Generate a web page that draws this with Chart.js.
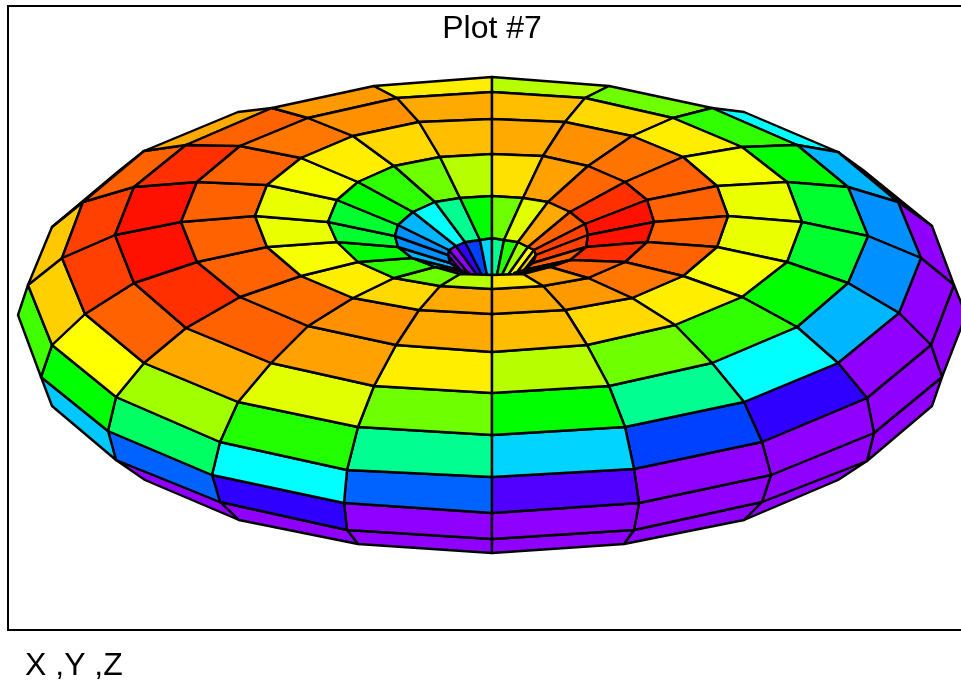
<!DOCTYPE html>
<html>
<head>
<meta charset="utf-8">
<title>Plot #7</title>
<script src="https://cdn.jsdelivr.net/npm/chart.js@4/dist/chart.umd.js"></script>
<style>
  html, body { margin: 0; padding: 0; background: #fff; overflow: hidden; }
  canvas { display: block; }
</style>
</head>
<body>
<canvas id="surface" width="961" height="681"></canvas>
<script>
// mesh: every ring has 20 vertices, front spoke first,
// round the left side to the back spoke, then back down the right side
const _ = null;

const throatX = [_, _, _, _, 458, 463, 470, 477, 482, 487, 492, 497, 502, 508, 515, 522, 526, _, _, _];
const throatY = [_, _, _, _, 271, 273, 275, 275, 275, 275, 275, 275, 275, 275, 275, 273, 271, _, _, _];
const lipX = [492, 481, 470, 460, 450, 448, 449, 456, 465, 480, 492, 504, 518, 528, 534, 536, 533, 524, 514, 503];
const lipY = [275, 274, 273, 270, 263, 255, 250, 246, 242, 240, 238, 240, 242, 247, 250, 255, 263, 270, 273, 274];
const ringBX = [492, 460, 435, 412, 398, 395, 398, 413, 435, 460, 492, 523, 548, 570, 585, 588, 586, 570, 550, 523];
const ringBY = [275, 274, 267, 258, 247, 236, 225, 212, 202, 198, 196, 198, 202, 212, 224, 235, 247, 260, 267, 274];
const ringCX = [492, 440, 394, 358, 337, 328, 337, 358, 394, 440, 492, 543, 588, 625, 647, 654, 647, 625, 588, 543];
const ringCY = [289, 286, 278, 262, 242, 222, 200, 182, 166, 157, 154, 156, 166, 182, 200, 222, 242, 262, 278, 286];
const ringDX = [492, 419, 353, 301, 267, 255, 267, 301, 353, 419, 492, 565, 632, 683, 717, 728, 717, 683, 632, 565];
const ringDY = [314, 310, 298, 276, 247, 216, 185, 158, 136, 122, 119, 122, 136, 157, 186, 216, 247, 276, 298, 310];
const ringEX = [492, 396, 308, 240, 197, 181, 197, 240, 308, 397, 492, 585, 673, 742, 787, 802, 787, 742, 675, 587];
const ringEY = [352, 345, 326, 297, 262, 222, 182, 146, 118, 98, 92, 98, 118, 147, 182, 222, 262, 297, 325, 345];
const ringFX = [492, 374, 271, 186, 134, 115, 134, 186, 272, 374, 492, 609, 712, 797, 848, 868, 848, 797, 712, 609];
const ringFY = [393, 386, 363, 328, 283, 235, 187, 145, 108, 86, 77, 86, 108, 145, 187, 236, 283, 327, 363, 386];
const ringGX = [492, 358, 238, 144, 85, 62, 83, 144, 238, _, _, _, 744, 838, 898, 921, 899, 838, 744, 625];
const ringGY = [435, 427, 402, 363, 314, 258, 202, 151, 112, _, _, _, 112, 152, 202, 258, 313, 363, 402, 427];
const ringHX = [492, 347, 220, 116, 52, 28, 52, 120, _, _, _, _, _, 863, 932, 954, 931, 867, 762, 634];
const ringHY = [477, 470, 442, 397, 345, 285, 227, 170, _, _, _, _, _, 170, 226, 285, 345, 398, 442, 469];
const ringIX = [492, 344, 212, 108, 41, 18, _, _, _, _, _, _, _, _, _, 966, 942, 874, 771, 639];
const ringIY = [513, 503, 475, 431, 377, 315, _, _, _, _, _, _, _, _, _, 315, 377, 433, 475, 503];
const ringJX = [492, 347, 220, 116, 52, _, _, _, _, _, _, _, _, _, _, _, 932, 867, 762, 634];
const ringJY = [539, 530, 502, 460, 406, _, _, _, _, _, _, _, _, _, _, _, 406, 461, 502, 530];
const ringKX = [492, 358, 239, 145, _, _, _, _, _, _, _, _, _, _, _, _, _, 838, 744, 624];
const ringKY = [553, 544, 520, 480, _, _, _, _, _, _, _, _, _, _, _, _, _, 480, 520, 544];

// value of each cell between two rings, as a rainbow hue (0 red .. 274 violet)
const throatHues = [_, _, _, _, 274, 274, 274, 251, 225, 190, 154, 112, 82, 60, 49, 47, _, _, _, _];
const bandABHues = [_, _, 180, 197, 206, 206, 197, 180, 154, 120, 94, 67, 40, 23, 15, 15, 23, 40, _, _];
const bandBCHues = [77, 94, 109, 120, 131, 131, 120, 109, 94, 77, 53, 38, 24, 11, 4, 4, 11, 23, 38, 53];
const bandCDHues = [40, 51, 56, 62, 65, 65, 62, 56, 51, 45, 40, 34, 27, 23, 23, 23, 23, 28, 36, 40];
const bandDEHues = [40, 34, 26, 23, 23, 23, 23, 28, 34, 40, 45, 51, 56, 62, 65, 65, 62, 56, 51, 45];
const bandEFHues = [56, 38, 23, 11, 4, 4, 11, 23, 36, 56, 77, 94, 109, 120, 131, 131, 120, 109, 94, 77];
const bandFGHues = [94, 67, 40, 23, 15, 15, 23, 40, _, _, _, _, 180, 197, 206, 206, 197, 180, 154, 120];
const bandGHHues = [154, 112, 82, 60, 49, 47, 60, _, _, _, _, _, _, 274, 274, 274, 274, 251, 225, 190];
const bandHIHues = [217, 180, 143, 120, 105, _, _, _, _, _, _, _, _, _, _, 274, 274, 274, 274, 259];
const bandIJHues = [274, 251, 217, 193, _, _, _, _, _, _, _, _, _, _, _, _, 274, 274, 274, 274];
const bandJKHues = [274, 274, 274, _, _, _, _, _, _, _, _, _, _, _, _, _, _, 274, 274, 274];

const titleText = 'Plot #7';
const axesText = 'X ,Y ,Z';

// painter's order, the hole goes first so the near lip covers it
const bands = [
  [throatX, throatY, lipX, lipY, throatHues],
  [ringJX, ringJY, ringKX, ringKY, bandJKHues],
  [ringIX, ringIY, ringJX, ringJY, bandIJHues],
  [ringHX, ringHY, ringIX, ringIY, bandHIHues],
  [ringGX, ringGY, ringHX, ringHY, bandGHHues],
  [ringFX, ringFY, ringGX, ringGY, bandFGHues],
  [ringEX, ringEY, ringFX, ringFY, bandEFHues],
  [ringDX, ringDY, ringEX, ringEY, bandDEHues],
  [ringCX, ringCY, ringDX, ringDY, bandCDHues],
  [ringBX, ringBY, ringCX, ringCY, bandBCHues],
  [lipX, lipY, ringBX, ringBY, bandABHues]
];

const datasets = [];
bands.forEach(([ax, ay, bx, by, hues]) => {
  hues.forEach((hue, i) => {
    if (hue === null) return;
    const j = (i + 1) % hues.length;
    datasets.push({
      data: [
        { x: ax[i], y: ay[i] },
        { x: ax[j], y: ay[j] },
        { x: bx[j], y: by[j] },
        { x: bx[i], y: by[i] },
        { x: ax[i], y: ay[i] }
      ],
      showLine: true,
      fill: 'shape',
      backgroundColor: `hsl(${hue}, 100%, 50%)`,
      borderColor: '#000',
      borderWidth: 2.4,
      borderJoinStyle: 'round',
      tension: 0,
      pointRadius: 0
    });
  });
});
// Chart.js paints the last dataset first
datasets.reverse();

const labelsPlugin = {
  id: 'plotLabels',
  afterDraw(chart) {
    const ctx = chart.ctx;
    ctx.save();
    ctx.fillStyle = '#000';
    ctx.font = '32px "Liberation Sans", Arial, sans-serif';
    ctx.textBaseline = 'alphabetic';
    ctx.textAlign = 'center';
    ctx.fillText(titleText, chart.scales.x.getPixelForValue(492), 38);
    ctx.textAlign = 'left';
    ctx.fillText(axesText, 25, 675);
    ctx.restore();
  }
};

const frameAxis = (position, min, max, extra) => ({
  type: 'linear',
  position,
  min,
  max,
  ticks: { display: false },
  grid: { display: false, drawTicks: false },
  border: { display: true, color: '#000', width: 2 },
  ...extra
});

new Chart(document.getElementById('surface'), {
  type: 'scatter',
  data: { datasets },
  plugins: [labelsPlugin],
  options: {
    responsive: false,
    animation: false,
    events: [],
    layout: { padding: { left: 8, top: 6, right: 0, bottom: 51 } },
    plugins: {
      legend: { display: false },
      tooltip: { enabled: false }
    },
    scales: {
      x: frameAxis('bottom', 8, 961),
      xTop: frameAxis('top', 8, 961, { axis: 'x' }),
      y: frameAxis('left', 6, 630, { reverse: true })
    }
  }
});
</script>
</body>
</html>
